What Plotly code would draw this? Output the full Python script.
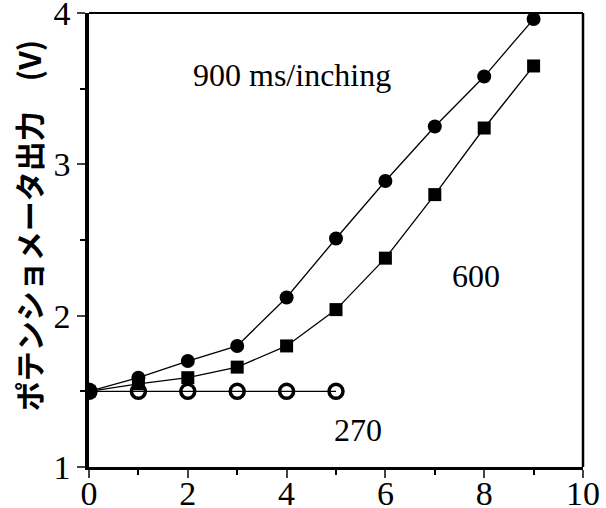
import plotly.graph_objects as go

x_vals = [0, 1, 2, 3, 4, 5, 6, 7, 8, 9]
y_900 = [1.5, 1.59, 1.70, 1.80, 2.12, 2.51, 2.89, 3.25, 3.58, 3.96]
y_600 = [1.5, 1.55, 1.59, 1.66, 1.80, 2.04, 2.38, 2.80, 3.24, 3.65]
x_270 = [0, 1, 2, 3, 4, 5]
y_270 = [1.5, 1.5, 1.5, 1.5, 1.5, 1.5]
x_ticks = [0, 2, 4, 6, 8, 10]
y_ticks = [1, 2, 3, 4]

fig = go.Figure()
fig.add_trace(go.Scatter(x=x_270, y=y_270, mode="lines+markers",
    line=dict(color="black", width=1.3),
    marker=dict(symbol="circle-open", size=14, color="black", line=dict(width=3.5))))
fig.add_trace(go.Scatter(x=x_vals, y=y_600, mode="lines+markers",
    line=dict(color="black", width=1.3),
    marker=dict(symbol="square", size=13, color="black")))
fig.add_trace(go.Scatter(x=x_vals, y=y_900, mode="lines+markers",
    line=dict(color="black", width=1.3),
    marker=dict(symbol="circle", size=14, color="black")))

serif = "Liberation Serif, Times New Roman, serif"
fig.update_layout(
    width=606, height=508,
    margin=dict(l=89, r=23, t=13, b=41),
    paper_bgcolor="white", plot_bgcolor="white",
    showlegend=False,
    font=dict(family=serif, color="black"),
    xaxis=dict(range=[0, 10], tickvals=x_ticks, ticks="outside", ticklen=8, tickwidth=2,
               tickfont=dict(size=34, family=serif), showline=True, linewidth=3, linecolor="black",
               showgrid=False, zeroline=False, automargin=False, ticklabeloverflow="allow",
               ticklabelstandoff=-14,
               minor=dict(ticks="outside", dtick=1, ticklen=5, tickwidth=2, tickcolor="black")),
    yaxis=dict(range=[1, 4], tickvals=y_ticks, ticks="outside", ticklen=8, tickwidth=2,
               tickfont=dict(size=34, family=serif), showline=True, linewidth=3.5, linecolor="black",
               showgrid=False, zeroline=False, automargin=False, ticklabeloverflow="allow",
               minor=dict(ticks="outside", dtick=0.5, ticklen=5, tickwidth=2, tickcolor="black")),
    shapes=[
        dict(type="line", xref="paper", yref="paper", x0=0, x1=1, y0=1, y1=1, line=dict(color="black", width=2)),
        dict(type="line", xref="paper", yref="paper", x0=1, x1=1, y0=0, y1=1, line=dict(color="black", width=2.5)),
    ],
    annotations=[
        dict(x=4.11, y=3.59, text="900 ms/inching", showarrow=False, font=dict(size=32, family=serif)),
        dict(x=7.83, y=2.26, text="600", showarrow=False, font=dict(size=32, family=serif)),
        dict(x=5.45, y=1.245, text="270", showarrow=False, font=dict(size=32, family=serif)),
        dict(x=-0.122, xref="paper", y=0.532, yref="paper", xanchor="center", yanchor="middle",
             text="<b>ポテンショメータ出力　(V)</b>", textangle=-90,
             showarrow=False, font=dict(size=30, family="Noto Sans CJK JP")),
    ],
)
fig.write_html("out.html", config={"displayModeBar": False},
               post_script="document.body.style.margin='0';document.body.style.overflow='hidden';")
